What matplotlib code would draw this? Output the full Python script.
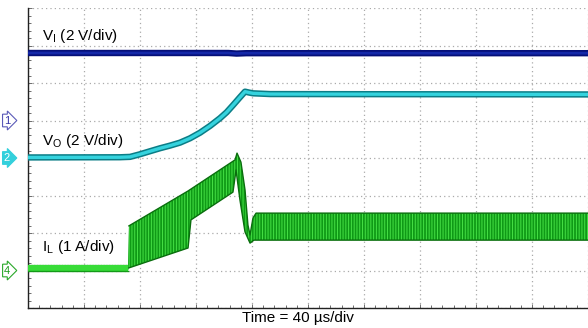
import matplotlib
matplotlib.use('Agg')
import matplotlib.pyplot as plt
import numpy as np
from matplotlib.ticker import MultipleLocator

plt.rcParams['font.family'] = ['Liberation Sans', 'DejaVu Sans']
plt.rcParams['mathtext.fontset'] = 'custom'
plt.rcParams['mathtext.rm'] = 'Liberation Sans'
plt.rcParams['hatch.linewidth'] = 0.7

# ---------------- data (time in µs) ----------------
vi_time = [0, 143, 149, 156, 400]
vi_volts = [3.60, 3.60, 3.57, 3.59, 3.59]

vo_time = [0, 65.7, 72.9, 80.0, 87.1, 94.3, 101.4, 108.6, 115.7, 122.9, 130.0,
           137.1, 141.9, 146.6, 151.4, 155.0, 157.9, 160.7, 172.9, 400]
vo_volts = [0.03, 0.04, 0.06, 0.20, 0.36, 0.52, 0.66, 0.82, 1.05, 1.35, 1.71,
            2.12, 2.44, 2.83, 3.24, 3.54, 3.49, 3.45, 3.41, 3.39]

il_time_hi = [0, 71.4, 72.1, 114.3, 147.9, 149.3, 152.1, 155.0, 157.1, 158.6, 160.7, 162.9, 400]
il_amps_hi = [0.15, 0.15, 1.19, 2.12, 2.95, 3.13, 2.89, 2.15, 1.21, 0.95, 1.40, 1.53, 1.53]
il_time_lo = [0, 71.4, 72.1, 114.3, 116.4, 146.4, 148.6, 151.4, 155.0, 158.6, 161.4, 400]
il_amps_lo = [-0.01, -0.01, 0.07, 0.60, 1.35, 2.09, 2.68, 1.88, 1.03, 0.73, 0.81, 0.81]

# channel settings: (offset in divisions, units per division)
ch1 = (5.0, 2.0)
ch2 = (4.0, 2.0)
ch4 = (1.0, 1.0)

labels = [r'V$_{\mathregular{I}}$ (2 V/div)', r'V$_{\mathregular{O}}$ (2 V/div)',
          r'I$_{\mathregular{L}}$ (1 A/div)']
time_label = 'Time = 40 µs/div'


def to_div(vals, ch):
    return ch[0] + np.asarray(vals) / ch[1]


W, H = 588, 328
fig = plt.figure(figsize=(W / 100, H / 100), dpi=100)
ax = fig.add_axes([28 / W, 20 / H, 560 / W, 300 / H])
ax.set_xlim(0, 400)
ax.set_ylim(0, 8)
ax.xaxis.set_major_locator(MultipleLocator(40))
ax.yaxis.set_major_locator(MultipleLocator(1))
ax.xaxis.set_minor_locator(MultipleLocator(8))
ax.yaxis.set_minor_locator(MultipleLocator(0.2))
ax.tick_params(which='both', direction='in', labelbottom=False, labelleft=False,
               color='#555555', width=0.6)
ax.tick_params(which='major', length=3)
ax.tick_params(which='minor', length=2.5)
for s in ['top', 'right']:
    ax.spines[s].set_visible(False)
for s in ['left', 'bottom']:
    ax.spines[s].set_linewidth(1.0)
    ax.spines[s].set_color('#222222')
ax.grid(True, which='major', color='#aaaaaa', linestyle=(0, (1, 2.5)), lw=0.9)
ax.set_axisbelow(True)

# ---- IL ----
th = np.asarray(il_time_hi); tl = np.asarray(il_time_lo)
hi = to_div(il_amps_hi, ch4); lo = to_div(il_amps_lo, ch4)
poly_x = np.r_[th, tl[::-1]]
poly_y = np.r_[hi, lo[::-1]]
ax.fill(poly_x, poly_y, facecolor='#0f9a16', edgecolor='#45e045', hatch='||||||', lw=0, zorder=3)
ax.plot(th[2:], hi[2:], color='#0a6e0e', lw=1.0, zorder=4)
ax.plot(tl[2:], lo[2:], color='#0a6e0e', lw=1.0, zorder=4)
# flat part before switching
ax.fill(np.r_[th[:2], tl[1::-1]], np.r_[hi[:2], lo[1::-1]], facecolor='#38dc38',
        edgecolor='none', zorder=4)
ax.plot(tl[:2], lo[:2], color='#139a18', lw=1.0, zorder=4)

# ---- VO ----
vo_y = to_div(vo_volts, ch2)
ax.plot(vo_time, vo_y, color='#0b7d86', lw=4.6, solid_capstyle='butt', zorder=5)
ax.plot(vo_time, vo_y, color='#35d3de', lw=2.4, solid_capstyle='butt', zorder=6)

# ---- VI ----
vi_y = to_div(vi_volts, ch1)
ax.plot(vi_time, vi_y, color='#050f78', lw=4.6, solid_capstyle='butt', zorder=5)
ax.plot(vi_time, vi_y, color='#1428a8', lw=2.0, solid_capstyle='butt', zorder=6)

# ---- labels ----
fs = 11
fig.text(42 / W, 1 - 36 / H, labels[0], fontsize=fs, va='center', ha='left')
fig.text(42 / W, 1 - 141 / H, labels[1], fontsize=fs, va='center', ha='left')
fig.text(42 / W, 1 - 247 / H, labels[2], fontsize=fs, va='center', ha='left')
fig.text(298 / W, 1 - 318 / H, time_label, fontsize=fs, va='center', ha='center')

# channel markers
fig.text(7 / W, 1 - 120.5 / H, '1', fontsize=8, color='#3a3aa8', ha='center', va='center',
         bbox=dict(boxstyle='rarrow,pad=0.12', fc='white', ec='#5a5ab8', lw=0.8))
fig.text(7 / W, 1 - 158 / H, '2', fontsize=8, color='white', ha='center', va='center',
         bbox=dict(boxstyle='rarrow,pad=0.12', fc='#34d0dc', ec='#34d0dc', lw=0.8))
fig.text(7 / W, 1 - 270.5 / H, '4', fontsize=8, color='#1a9a1a', ha='center', va='center',
         bbox=dict(boxstyle='rarrow,pad=0.12', fc='white', ec='#2aa82a', lw=0.8))

fig.savefig('out.png', dpi=100)
